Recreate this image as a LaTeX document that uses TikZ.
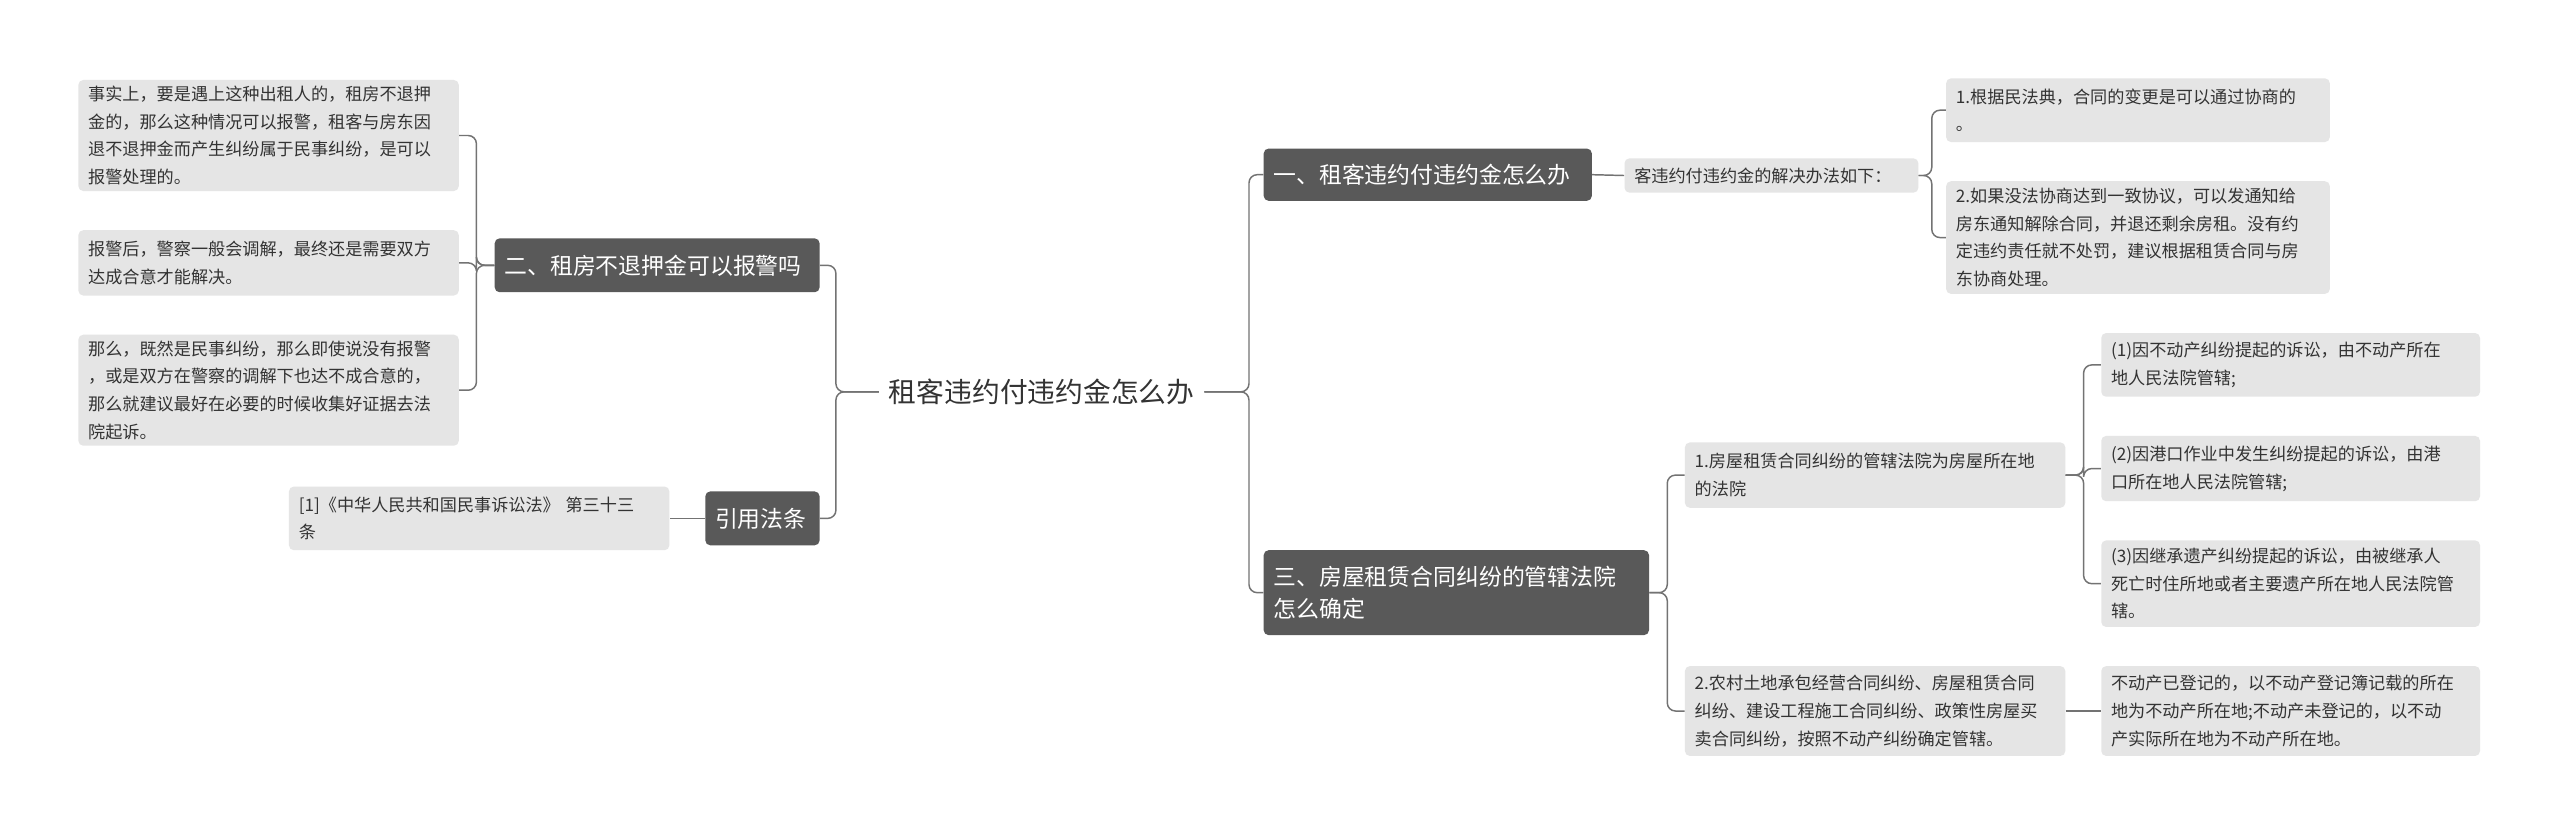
\documentclass[tikz,border=0pt]{standalone}
\usepackage{fontspec}
\setmainfont{Noto Sans CJK SC}
\begin{document}
\begin{tikzpicture}[x=1pt,y=-1pt,
 lbox/.style={fill=black!10,rounded corners=3pt,text=black!80,align=left,inner sep=0pt,font=\fontsize{10.5}{17}\selectfont},
 dbox/.style={fill=black!65,rounded corners=3pt,text=white,align=left,inner sep=0pt,font=\fontsize{14}{20}\selectfont},
 ln/.style={draw=black!55,line width=0.9pt,rounded corners=5pt}]
\fill[white] (0,0) rectangle (1568,511);
\newcommand{\bx}[7]{\node[#1,minimum width=#4-#2,minimum height=#5-#3,text width=#4-#2-12] (#6) at ({(#2+#4)/2},{(#3+#5)/2}) {#7};}
\node[font=\fontsize{17}{20}\selectfont,text=black!80,inner sep=0pt] (c) at (638,240) {租客违约付违约金怎么办};
\bx{dbox}{774}{91}{975}{123}{r1}{一、租客违约付违约金怎么办}
\bx{lbox}{995}{97}{1175}{118}{r1a}{客违约付违约金的解决办法如下：}
\bx{lbox}{1192}{48}{1427}{87}{r1a1}{1.根据民法典，合同的变更是可以通过协商的\\。}
\bx{lbox}{1192}{111}{1427}{180}{r1a2}{2.如果没法协商达到一致协议，可以发通知给\\房东通知解除合同，并退还剩余房租。没有约\\定违约责任就不处罚，建议根据租赁合同与房\\东协商处理。}
\bx{dbox}{774}{337}{1010}{389}{r3}{三、房屋租赁合同纠纷的管辖法院\\怎么确定}
\bx{lbox}{1032}{271}{1265}{311}{r3a}{1.房屋租赁合同纠纷的管辖法院为房屋所在地\\的法院}
\bx{lbox}{1032}{408}{1265}{463}{r3b}{2.农村土地承包经营合同纠纷、房屋租赁合同\\纠纷、建设工程施工合同纠纷、政策性房屋买\\卖合同纠纷，按照不动产纠纷确定管辖。}
\bx{lbox}{1287}{204}{1519}{243}{r3a1}{(1)因不动产纠纷提起的诉讼，由不动产所在\\地人民法院管辖;}
\bx{lbox}{1287}{267}{1519}{307}{r3a2}{(2)因港口作业中发生纠纷提起的诉讼，由港\\口所在地人民法院管辖;}
\bx{lbox}{1287}{331}{1519}{384}{r3a3}{(3)因继承遗产纠纷提起的诉讼，由被继承人\\死亡时住所地或者主要遗产所在地人民法院管\\辖。}
\bx{lbox}{1287}{408}{1519}{463}{r3b1}{不动产已登记的，以不动产登记簿记载的所在\\地为不动产所在地;不动产未登记的，以不动\\产实际所在地为不动产所在地。}
\bx{dbox}{303}{146}{502}{179}{l2}{二、租房不退押金可以报警吗}
\bx{lbox}{48}{49}{281}{117}{l2a}{事实上，要是遇上这种出租人的，租房不退押\\金的，那么这种情况可以报警，租客与房东因\\退不退押金而产生纠纷属于民事纠纷，是可以\\报警处理的。}
\bx{lbox}{48}{141}{281}{181}{l2b}{报警后，警察一般会调解，最终还是需要双方\\达成合意才能解决。}
\bx{lbox}{48}{205}{281}{273}{l2c}{那么，既然是民事纠纷，那么即使说没有报警\\，或是双方在警察的调解下也达不成合意的，\\那么就建议最好在必要的时候收集好证据去法\\院起诉。}
\bx{dbox}{432}{301}{502}{334}{l4}{引用法条}
\bx{lbox}{177}{298}{410}{337}{l4a}{[1]《中华人民共和国民事诉讼法》 第三十三\\条}
% connectors
\foreach \t in {r1,r3} \draw[ln] (c.east) ++(6,0) -- ++(6,0) coordinate (tmp) (c.east)++(6,0) -- (c.east -| 765,0) |- (\t.west);
\draw[ln] (r1.east) -- (r1a.west);
\foreach \t in {r1a1,r1a2} \draw[ln] (r1a.east) -- ++(8,0) |- (\t.west);
\foreach \t in {r3a,r3b} \draw[ln] (r3.east) -- ++(11,0) |- (\t.west);
\foreach \t in {r3a1,r3a2,r3a3} \draw[ln] (r3a.east) -- ++(11,0) |- (\t.west);
\draw[ln] (r3b.east) -- (r3b1.west);
\foreach \t in {l2,l4} \draw[ln] ([xshift=-6pt]c.west) -- (c.west -| 512,0) |- (\t.east);
\foreach \t in {l2a,l2b,l2c} \draw[ln] (l2.west) -- ++(-11,0) |- (\t.east);
\draw[ln] (l4.west) -- (l4a.east);
\end{tikzpicture}
\end{document}
